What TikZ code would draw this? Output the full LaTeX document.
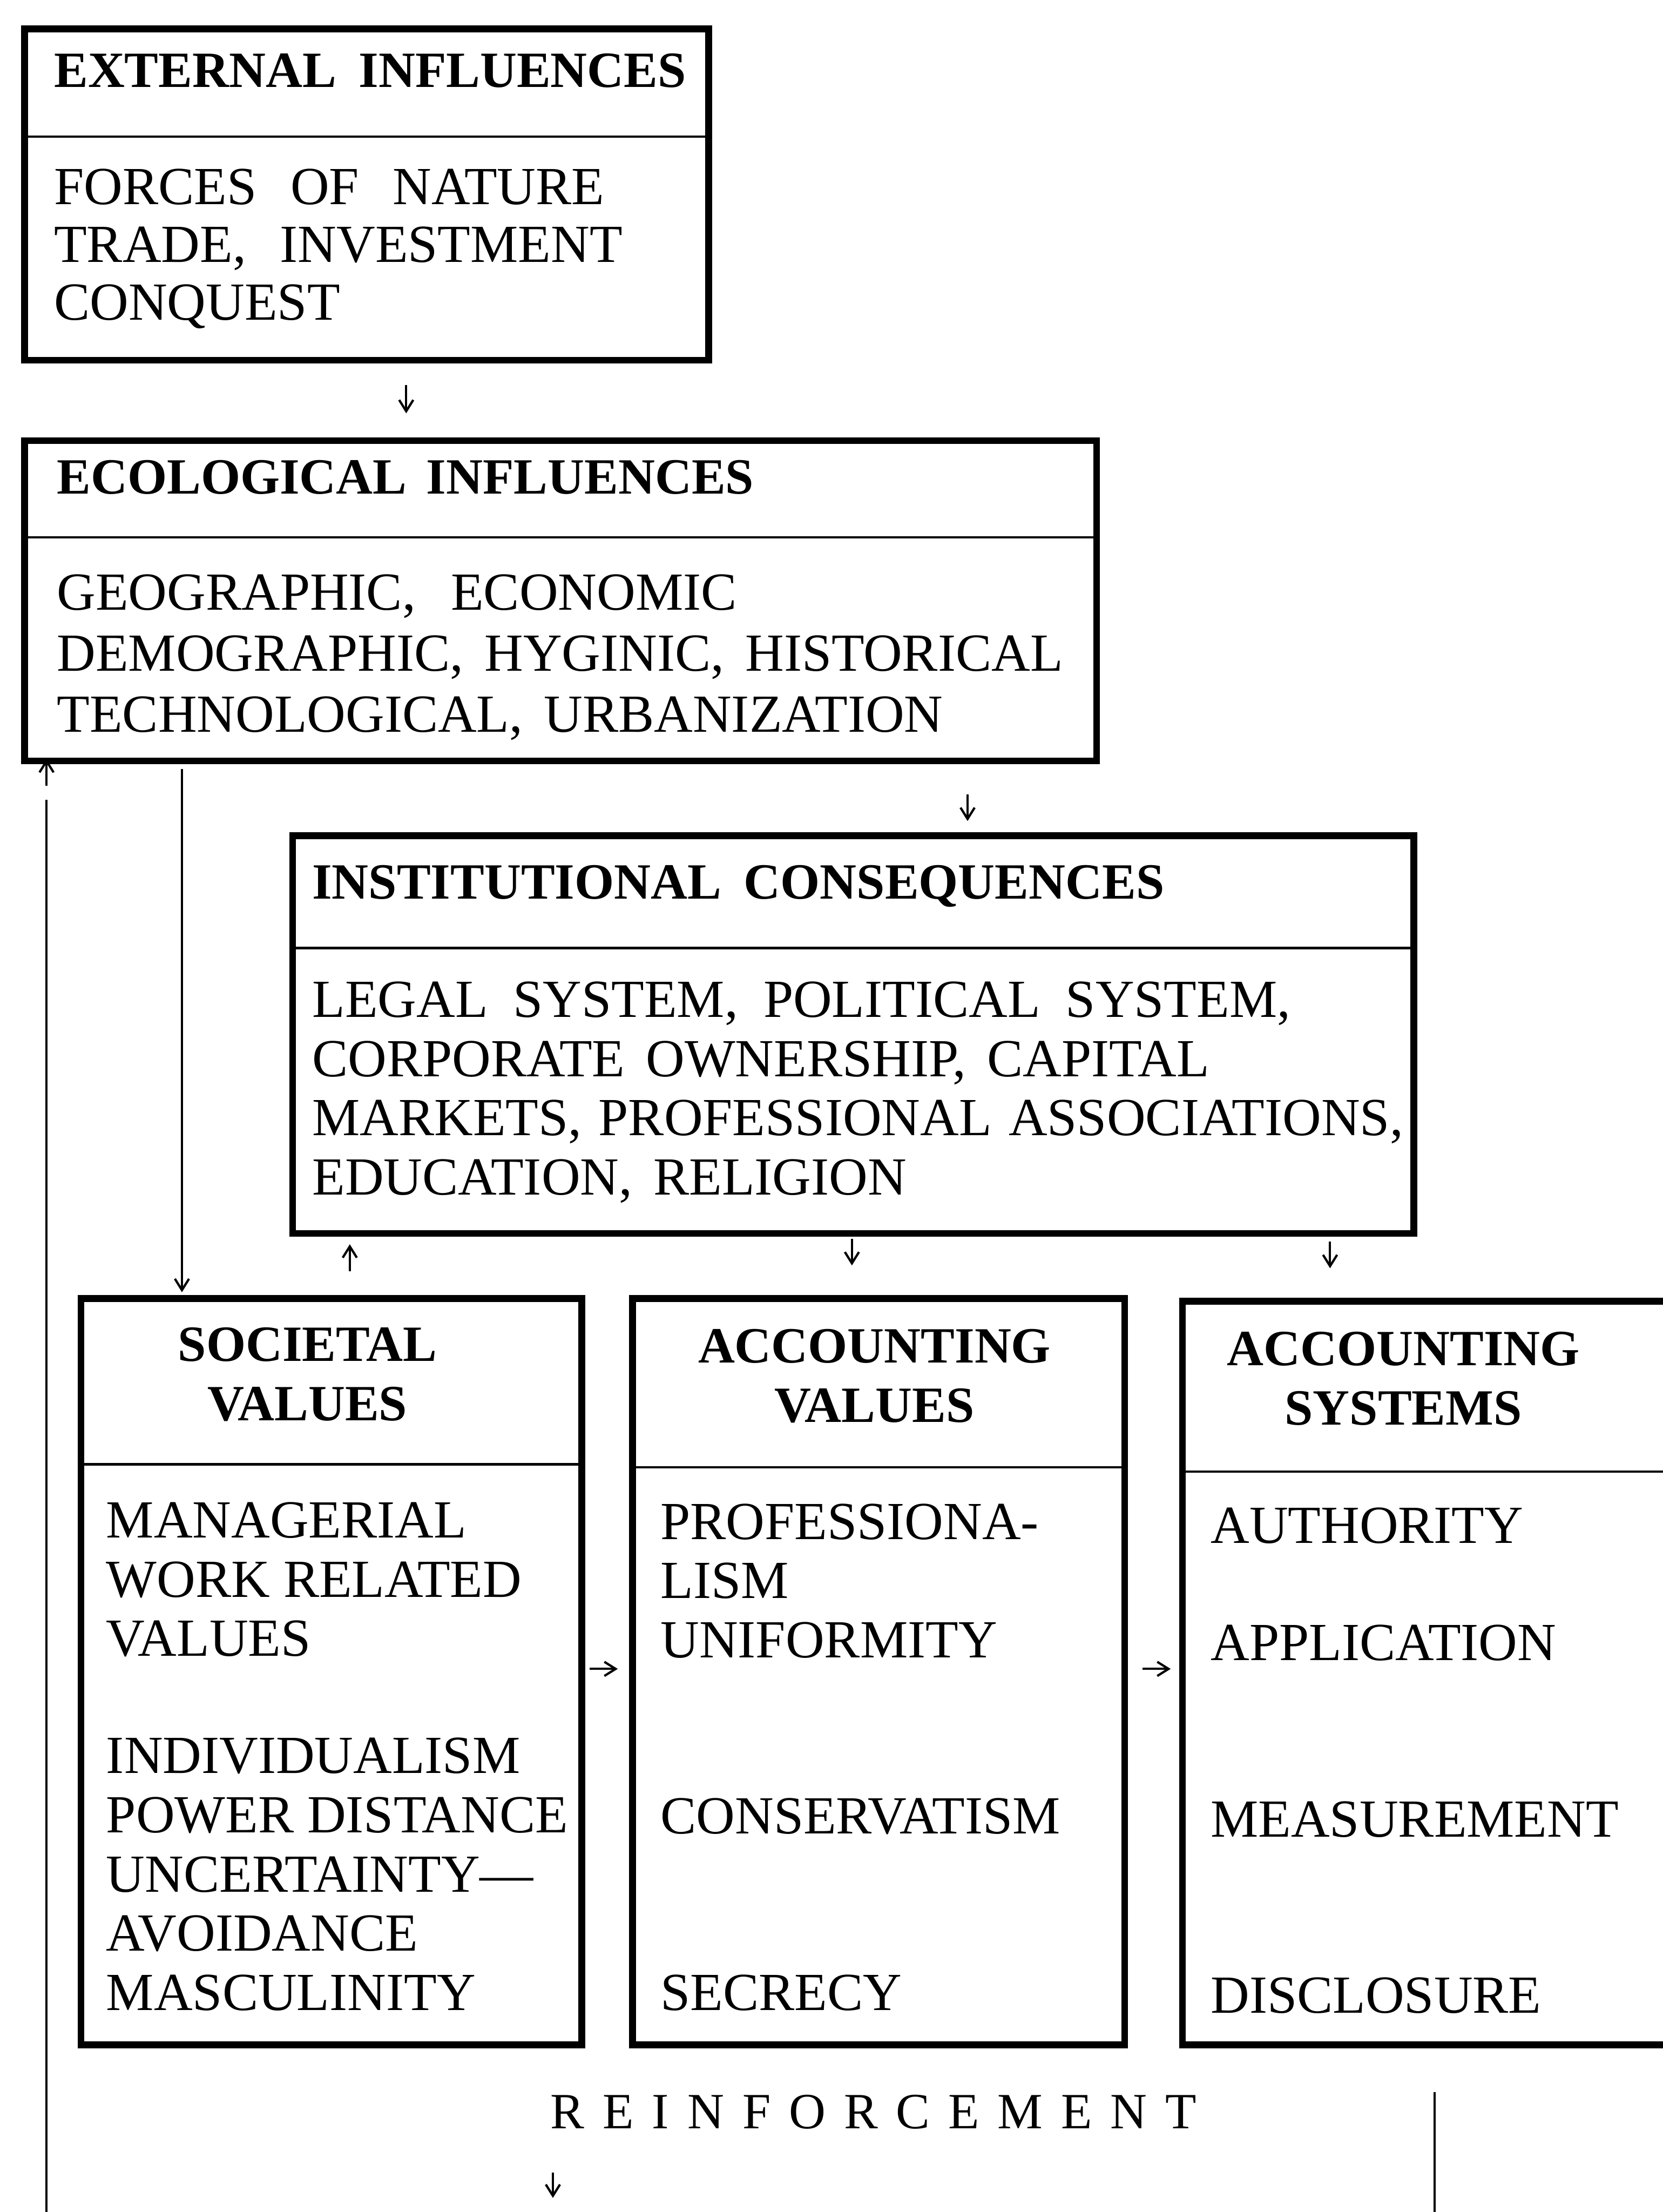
\documentclass[tikz,border=0pt]{standalone}
\usepackage{fontspec}
\setmainfont{Liberation Serif}
\usetikzlibrary{arrows.meta}
\begin{document}
\begin{tikzpicture}[x=0.5pt,y=-0.5pt,
  box/.style={draw, line width=2.4pt, anchor=north west, inner sep=0pt},
  divider/.style={line width=0.8pt},
  head/.style={font={\bfseries\fontsize{18}{21}\selectfont\spaceskip=8pt\relax}, inner sep=0pt, anchor=base west, align=left},
  headc/.style={font={\bfseries\fontsize{18}{21}\selectfont}, inner sep=0pt, anchor=base, align=center},
  body/.style={font={\fontsize{19}{21}\selectfont}, inner sep=0pt, anchor=base west, align=left},
  widebody/.style={font={\fontsize{19}{21}\selectfont\spaceskip=6pt\relax}, inner sep=0pt, anchor=base west, align=left},
  conn/.style={line width=0.8pt},
  tip/.style={line width=0.8pt, -{Straight Barb[length=4pt,width=5pt]}},
]
\clip (0,0) rectangle (1179,1568);
\fill[white] (0,0) rectangle (1179,1568);

% ---- boxes ----
\node[box, minimum width=242.5pt, minimum height=117.5pt] (ext)  at (15,18)  {};
\node[box, minimum width=380pt,   minimum height=113.5pt] (eco)  at (15,310) {};
\node[box, minimum width=397.5pt, minimum height=141pt]   (inst) at (205,590) {};
\node[box, minimum width=177.5pt, minimum height=264.5pt] (soc)  at (55,918) {};
\node[box, minimum width=174.5pt, minimum height=264.5pt] (accv) at (446,918) {};
\node[box, minimum width=185pt,   minimum height=263.5pt] (accs) at (836,920) {};

% ---- header dividers ----
\draw[divider] (ext.west |- 0,97)    -- (ext.east |- 0,97);
\draw[divider] (eco.west |- 0,381)   -- (eco.east |- 0,381);
\draw[divider] (inst.west |- 0,672)  -- (inst.east |- 0,672);
\draw[divider] (soc.west |- 0,1038)  -- (soc.east |- 0,1038);
\draw[divider] (accv.west |- 0,1040) -- (accv.east |- 0,1040);
\draw[divider] (accs.west |- 0,1043) -- (accs.east |- 0,1043);

% ---- texts (multi-line nodes sit on the baseline of their last line) ----
\node[head] (extT) at (38,62) {EXTERNAL INFLUENCES};
\node[body, font={\fontsize{19}{20.5}\selectfont\spaceskip=12pt\relax}] (extB) at (38,227)
  {FORCES OF NATURE\\TRADE, INVESTMENT\\CONQUEST};

\node[head, font={\bfseries\fontsize{18}{21}\selectfont\spaceskip=7pt\relax}] (ecoT) at (40,350) {ECOLOGICAL INFLUENCES};
\node[widebody, font={\fontsize{19}{21.7}\selectfont\spaceskip=7.5pt\relax}] (ecoB) at (40,519)
  {GEOGRAPHIC,\hspace{5pt} ECONOMIC\\DEMOGRAPHIC, HYGINIC, HISTORICAL\\TECHNOLOGICAL, URBANIZATION};

\node[head] (instT) at (221,637) {INSTITUTIONAL CONSEQUENCES};
\node[widebody] (instB) at (221,847)
  {{\spaceskip=9pt\relax LEGAL SYSTEM, POLITICAL SYSTEM,}\\{\spaceskip=7.5pt\relax CORPORATE OWNERSHIP, CAPITAL}\\MARKETS, PROFESSIONAL ASSOCIATIONS,\\{\spaceskip=7.5pt\relax EDUCATION, RELIGION}};

\node[headc] (socT) at (218,1007) {SOCIETAL\\VALUES};
\node[body] (socB) at (75,1425)
  {MANAGERIAL\\WORK RELATED\\VALUES\\[20.5pt]INDIVIDUALISM\\POWER DISTANCE\\UNCERTAINTY—\\AVOIDANCE\\MASCULINITY};

\node[headc] (accvT) at (620,1008) {ACCOUNTING\\VALUES};
\node[body] (accvB) at (468,1425)
  {PROFESSIONA-\\LISM\\UNIFORMITY\\[41.5pt]CONSERVATISM\\[41.5pt]SECRECY};

\node[headc] (accsT) at (995,1010) {ACCOUNTING\\SYSTEMS};
\node[body] (accsB) at (858,1427)
  {AUTHORITY\\[20.5pt]APPLICATION\\[41.5pt]MEASUREMENT\\[41.5pt]DISCLOSURE};

\node[font={\fontsize{18}{21}\selectfont\spaceskip=6.5pt\relax}, inner sep=0pt, anchor=base west] (reinf) at (390,1509)
  {R E I N F O R C E M E N T};

% ---- connector end points ----
\coordinate (extA1) at (288,273);  \coordinate (extA2) at (288,293);
\coordinate (fbA1)  at (33,557);   \coordinate (fbA2)  at (33,538);
\coordinate (fbL1)  at (33,567);   \coordinate (fbL2)  at (33,1580);
\coordinate (ecoL1) at (129,545);  \coordinate (ecoL2) at (129,916);
\coordinate (instA1) at (686,563); \coordinate (instA2) at (686,582);
\coordinate (socU1) at (248,901);  \coordinate (socU2) at (248,882);
\coordinate (accvD1) at (604,878); \coordinate (accvD2) at (604,897);
\coordinate (accsD1) at (943,880); \coordinate (accsD2) at (943,899);
\coordinate (svR1) at (418,1183);  \coordinate (svR2) at (438,1183);
\coordinate (avR1) at (810,1183);  \coordinate (avR2) at (830,1183);
\coordinate (reA1) at (392,1540);  \coordinate (reA2) at (392,1558);
\coordinate (reL1) at (1017,1483); \coordinate (reL2) at (1017,1580);

% ---- connectors ----
\draw[tip] (extA1) -- (extA2);
\draw[tip] (fbA1) -- (fbA2);
\draw[conn] (fbL1) -- (fbL2);
\draw[tip] (ecoL1) -- (ecoL2);
\draw[tip] (instA1) -- (instA2);
\draw[tip] (socU1) -- (socU2);
\draw[tip] (accvD1) -- (accvD2);
\draw[tip] (accsD1) -- (accsD2);
\draw[tip] (svR1) -- (svR2);
\draw[tip] (avR1) -- (avR2);
\draw[tip] (reA1) -- (reA2);
\draw[conn] (reL1) -- (reL2);
\end{tikzpicture}
\end{document}
